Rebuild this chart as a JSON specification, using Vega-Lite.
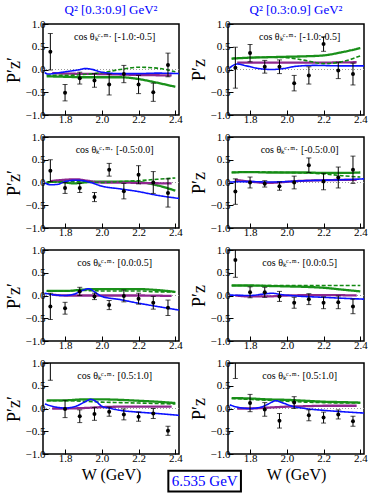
{
"$schema": "https://vega.github.io/schema/vega-lite/v6.json",
"padding": {"left": 4, "top": 3, "right": 0, "bottom": 0},
"datasets": {
"pts": [
{"p":1,"W":1.72,"P":0.39,"lo":-0.01,"hi":0.79},{"p":1,"W":1.80,"P":-0.51,"lo":-0.69,"hi":-0.33},{"p":1,"W":1.88,"P":-0.19,"lo":-0.32,"hi":-0.06},{"p":1,"W":1.96,"P":-0.24,"lo":-0.39,"hi":-0.09},{"p":1,"W":2.04,"P":-0.33,"lo":-0.56,"hi":-0.10},{"p":1,"W":2.12,"P":-0.10,"lo":-0.29,"hi":0.09},{"p":1,"W":2.20,"P":-0.33,"lo":-0.53,"hi":-0.13},{"p":1,"W":2.28,"P":-0.50,"lo":-0.70,"hi":-0.30},{"p":1,"W":2.36,"P":0.10,"lo":-0.16,"hi":0.36},
{"p":2,"W":1.72,"P":0.04,"lo":-0.41,"hi":0.49},{"p":2,"W":1.80,"P":0.36,"lo":0.17,"hi":0.55},{"p":2,"W":1.88,"P":0.06,"lo":-0.08,"hi":0.20},{"p":2,"W":1.96,"P":0.06,"lo":-0.09,"hi":0.21},{"p":2,"W":2.04,"P":-0.30,"lo":-0.47,"hi":-0.13},{"p":2,"W":2.12,"P":-0.13,"lo":-0.32,"hi":0.06},{"p":2,"W":2.20,"P":0.56,"lo":0.40,"hi":0.72},{"p":2,"W":2.28,"P":-0.02,"lo":-0.20,"hi":0.16},{"p":2,"W":2.36,"P":-0.10,"lo":-0.34,"hi":0.14},
{"p":3,"W":1.72,"P":0.26,"lo":0.02,"hi":0.50},{"p":3,"W":1.80,"P":-0.12,"lo":-0.24,"hi":0.0},{"p":3,"W":1.88,"P":-0.12,"lo":-0.22,"hi":-0.02},{"p":3,"W":1.96,"P":-0.32,"lo":-0.42,"hi":-0.22},{"p":3,"W":2.04,"P":0.28,"lo":0.14,"hi":0.42},{"p":3,"W":2.12,"P":-0.19,"lo":-0.36,"hi":-0.02},{"p":3,"W":2.20,"P":0.17,"lo":-0.03,"hi":0.37},{"p":3,"W":2.28,"P":0.0,"lo":-0.24,"hi":0.24},{"p":3,"W":2.36,"P":-0.23,"lo":-0.54,"hi":0.08},
{"p":4,"W":1.72,"P":-0.20,"lo":-0.48,"hi":0.08},{"p":4,"W":1.80,"P":0.0,"lo":-0.12,"hi":0.12},{"p":4,"W":1.88,"P":-0.03,"lo":-0.10,"hi":0.04},{"p":4,"W":1.96,"P":-0.08,"lo":-0.17,"hi":0.01},{"p":4,"W":2.04,"P":0.0,"lo":-0.14,"hi":0.14},{"p":4,"W":2.12,"P":0.38,"lo":0.22,"hi":0.54},{"p":4,"W":2.20,"P":0.02,"lo":-0.16,"hi":0.20},{"p":4,"W":2.28,"P":0.11,"lo":-0.12,"hi":0.34},{"p":4,"W":2.36,"P":0.28,"lo":-0.02,"hi":0.58},
{"p":5,"W":1.72,"P":-0.24,"lo":-0.53,"hi":0.05},{"p":5,"W":1.80,"P":-0.28,"lo":-0.41,"hi":-0.15},{"p":5,"W":1.88,"P":0.09,"lo":0.0,"hi":0.18},{"p":5,"W":1.96,"P":-0.02,"lo":-0.09,"hi":0.05},{"p":5,"W":2.04,"P":-0.21,"lo":-0.31,"hi":-0.11},{"p":5,"W":2.12,"P":-0.01,"lo":-0.14,"hi":0.12},{"p":5,"W":2.20,"P":-0.07,"lo":-0.19,"hi":0.05},{"p":5,"W":2.28,"P":-0.16,"lo":-0.30,"hi":-0.02},{"p":5,"W":2.36,"P":-0.27,"lo":-0.44,"hi":-0.10},
{"p":6,"W":1.72,"P":0.78,"lo":0.40,"hi":1.16},{"p":6,"W":1.80,"P":0.07,"lo":-0.05,"hi":0.19},{"p":6,"W":1.88,"P":0.07,"lo":-0.04,"hi":0.18},{"p":6,"W":1.96,"P":-0.02,"lo":-0.13,"hi":0.09},{"p":6,"W":2.04,"P":-0.16,"lo":-0.28,"hi":-0.04},{"p":6,"W":2.12,"P":-0.08,"lo":-0.20,"hi":0.04},{"p":6,"W":2.20,"P":-0.16,"lo":-0.29,"hi":-0.03},{"p":6,"W":2.28,"P":-0.15,"lo":-0.29,"hi":-0.01},{"p":6,"W":2.36,"P":-0.24,"lo":-0.40,"hi":-0.08},
{"p":7,"W":1.72,"P":1.20,"lo":0.62,"hi":1.78},{"p":7,"W":1.80,"P":-0.01,"lo":-0.20,"hi":0.18},{"p":7,"W":1.88,"P":-0.17,"lo":-0.31,"hi":-0.03},{"p":7,"W":1.96,"P":-0.12,"lo":-0.26,"hi":0.02},{"p":7,"W":2.04,"P":-0.07,"lo":-0.17,"hi":0.03},{"p":7,"W":2.12,"P":-0.13,"lo":-0.25,"hi":-0.01},{"p":7,"W":2.20,"P":-0.18,"lo":-0.28,"hi":-0.08},{"p":7,"W":2.28,"P":-0.11,"lo":-0.22,"hi":0.0},{"p":7,"W":2.36,"P":-0.49,"lo":-0.59,"hi":-0.39},
{"p":8,"W":1.72,"P":1.20,"lo":0.66,"hi":1.74},{"p":8,"W":1.80,"P":0.12,"lo":-0.07,"hi":0.31},{"p":8,"W":1.88,"P":-0.02,"lo":-0.17,"hi":0.13},{"p":8,"W":1.96,"P":-0.27,"lo":-0.43,"hi":-0.11},{"p":8,"W":2.04,"P":0.13,"lo":0.0,"hi":0.26},{"p":8,"W":2.12,"P":-0.15,"lo":-0.27,"hi":-0.03},{"p":8,"W":2.20,"P":-0.20,"lo":-0.32,"hi":-0.08},{"p":8,"W":2.28,"P":-0.13,"lo":-0.23,"hi":-0.03},{"p":8,"W":2.36,"P":-0.28,"lo":-0.39,"hi":-0.17}
],
"curves": [
{"p":1,"m":"gs","W":1.70,"P":-0.15},{"p":1,"m":"gs","W":1.8,"P":-0.16},{"p":1,"m":"gs","W":1.9,"P":-0.17},{"p":1,"m":"gs","W":2.0,"P":-0.17},{"p":1,"m":"gs","W":2.1,"P":-0.17},{"p":1,"m":"gs","W":2.2,"P":-0.21},{"p":1,"m":"gs","W":2.3,"P":-0.29},{"p":1,"m":"gs","W":2.4,"P":-0.38},
{"p":1,"m":"gd","W":1.70,"P":-0.13},{"p":1,"m":"gd","W":1.8,"P":-0.13},{"p":1,"m":"gd","W":1.9,"P":-0.11},{"p":1,"m":"gd","W":2.0,"P":-0.07},{"p":1,"m":"gd","W":2.1,"P":0.0},{"p":1,"m":"gd","W":2.2,"P":0.05},{"p":1,"m":"gd","W":2.3,"P":0.03},{"p":1,"m":"gd","W":2.4,"P":-0.05},
{"p":1,"m":"bl","W":1.69,"P":-0.07},{"p":1,"m":"bl","W":1.71,"P":-0.10},{"p":1,"m":"bl","W":1.75,"P":-0.08},{"p":1,"m":"bl","W":1.82,"P":-0.04},{"p":1,"m":"bl","W":1.87,"P":-0.01},{"p":1,"m":"bl","W":1.91,"P":0.02},{"p":1,"m":"bl","W":1.95,"P":0.0},{"p":1,"m":"bl","W":2.0,"P":-0.06},{"p":1,"m":"bl","W":2.1,"P":-0.09},{"p":1,"m":"bl","W":2.2,"P":-0.09},{"p":1,"m":"bl","W":2.3,"P":-0.08},{"p":1,"m":"bl","W":2.42,"P":-0.09},
{"p":1,"m":"pu","W":1.73,"P":-0.08},{"p":1,"m":"pu","W":1.8,"P":-0.09},{"p":1,"m":"pu","W":2.0,"P":-0.10},{"p":1,"m":"pu","W":2.2,"P":-0.12},{"p":1,"m":"pu","W":2.38,"P":-0.13},
{"p":2,"m":"gs","W":1.70,"P":0.24},{"p":2,"m":"gs","W":1.8,"P":0.26},{"p":2,"m":"gs","W":1.9,"P":0.27},{"p":2,"m":"gs","W":2.0,"P":0.28},{"p":2,"m":"gs","W":2.1,"P":0.29},{"p":2,"m":"gs","W":2.2,"P":0.31},{"p":2,"m":"gs","W":2.3,"P":0.38},{"p":2,"m":"gs","W":2.4,"P":0.47},
{"p":2,"m":"gd","W":1.70,"P":0.24},{"p":2,"m":"gd","W":1.8,"P":0.26},{"p":2,"m":"gd","W":1.9,"P":0.27},{"p":2,"m":"gd","W":2.0,"P":0.26},{"p":2,"m":"gd","W":2.1,"P":0.20},{"p":2,"m":"gd","W":2.2,"P":0.13},{"p":2,"m":"gd","W":2.3,"P":0.17},{"p":2,"m":"gd","W":2.4,"P":0.30},
{"p":2,"m":"bl","W":1.69,"P":0.04},{"p":2,"m":"bl","W":1.73,"P":0.12},{"p":2,"m":"bl","W":1.78,"P":0.08},{"p":2,"m":"bl","W":1.85,"P":0.02},{"p":2,"m":"bl","W":1.92,"P":0.0},{"p":2,"m":"bl","W":1.98,"P":0.02},{"p":2,"m":"bl","W":2.05,"P":0.07},{"p":2,"m":"bl","W":2.15,"P":0.09},{"p":2,"m":"bl","W":2.3,"P":0.08},{"p":2,"m":"bl","W":2.42,"P":0.08},
{"p":2,"m":"pu","W":1.73,"P":0.15},{"p":2,"m":"pu","W":1.9,"P":0.15},{"p":2,"m":"pu","W":2.1,"P":0.15},{"p":2,"m":"pu","W":2.38,"P":0.16},
{"p":3,"m":"gs","W":1.70,"P":0.0},{"p":3,"m":"gs","W":1.75,"P":0.02},{"p":3,"m":"gs","W":1.8,"P":0.0},{"p":3,"m":"gs","W":1.85,"P":-0.02},{"p":3,"m":"gs","W":1.9,"P":0.0},{"p":3,"m":"gs","W":2.0,"P":0.02},{"p":3,"m":"gs","W":2.1,"P":0.02},{"p":3,"m":"gs","W":2.2,"P":0.01},{"p":3,"m":"gs","W":2.3,"P":-0.06},{"p":3,"m":"gs","W":2.4,"P":-0.18},
{"p":3,"m":"gd","W":1.70,"P":0.0},{"p":3,"m":"gd","W":1.8,"P":0.02},{"p":3,"m":"gd","W":1.9,"P":0.02},{"p":3,"m":"gd","W":2.0,"P":0.0},{"p":3,"m":"gd","W":2.1,"P":0.02},{"p":3,"m":"gd","W":2.2,"P":0.04},{"p":3,"m":"gd","W":2.3,"P":0.07},{"p":3,"m":"gd","W":2.4,"P":0.10},
{"p":3,"m":"bl","W":1.69,"P":-0.01},{"p":3,"m":"bl","W":1.72,"P":-0.05},{"p":3,"m":"bl","W":1.76,"P":-0.04},{"p":3,"m":"bl","W":1.8,"P":0.02},{"p":3,"m":"bl","W":1.86,"P":0.05},{"p":3,"m":"bl","W":1.91,"P":0.03},{"p":3,"m":"bl","W":1.94,"P":0.0},{"p":3,"m":"bl","W":2.0,"P":-0.08},{"p":3,"m":"bl","W":2.1,"P":-0.14},{"p":3,"m":"bl","W":2.2,"P":-0.20},{"p":3,"m":"bl","W":2.3,"P":-0.28},{"p":3,"m":"bl","W":2.42,"P":-0.35},
{"p":3,"m":"pu","W":1.72,"P":0.03},{"p":3,"m":"pu","W":1.8,"P":0.06},{"p":3,"m":"pu","W":1.86,"P":0.07},{"p":3,"m":"pu","W":1.92,"P":0.04},{"p":3,"m":"pu","W":2.0,"P":0.0},{"p":3,"m":"pu","W":2.1,"P":0.0},{"p":3,"m":"pu","W":2.2,"P":-0.01},{"p":3,"m":"pu","W":2.38,"P":-0.02},
{"p":4,"m":"gs","W":1.70,"P":0.22},{"p":4,"m":"gs","W":1.8,"P":0.23},{"p":4,"m":"gs","W":1.9,"P":0.22},{"p":4,"m":"gs","W":2.0,"P":0.22},{"p":4,"m":"gs","W":2.1,"P":0.22},{"p":4,"m":"gs","W":2.2,"P":0.21},{"p":4,"m":"gs","W":2.3,"P":0.21},{"p":4,"m":"gs","W":2.4,"P":0.22},
{"p":4,"m":"gd","W":1.70,"P":0.22},{"p":4,"m":"gd","W":1.8,"P":0.23},{"p":4,"m":"gd","W":2.0,"P":0.22},{"p":4,"m":"gd","W":2.1,"P":0.21},{"p":4,"m":"gd","W":2.2,"P":0.19},{"p":4,"m":"gd","W":2.3,"P":0.15},{"p":4,"m":"gd","W":2.4,"P":0.12},
{"p":4,"m":"bl","W":1.69,"P":0.01},{"p":4,"m":"bl","W":1.8,"P":0.02},{"p":4,"m":"bl","W":1.9,"P":0.01},{"p":4,"m":"bl","W":2.0,"P":0.02},{"p":4,"m":"bl","W":2.1,"P":0.04},{"p":4,"m":"bl","W":2.2,"P":0.05},{"p":4,"m":"bl","W":2.3,"P":0.06},{"p":4,"m":"bl","W":2.42,"P":0.08},
{"p":4,"m":"pu","W":1.72,"P":0.06},{"p":4,"m":"pu","W":1.8,"P":0.02},{"p":4,"m":"pu","W":1.9,"P":-0.01},{"p":4,"m":"pu","W":1.95,"P":0.0},{"p":4,"m":"pu","W":2.05,"P":0.03},{"p":4,"m":"pu","W":2.2,"P":0.05},{"p":4,"m":"pu","W":2.38,"P":0.06},
{"p":5,"m":"gs","W":1.70,"P":0.10},{"p":5,"m":"gs","W":1.8,"P":0.10},{"p":5,"m":"gs","W":1.9,"P":0.13},{"p":5,"m":"gs","W":2.0,"P":0.14},{"p":5,"m":"gs","W":2.1,"P":0.14},{"p":5,"m":"gs","W":2.2,"P":0.14},{"p":5,"m":"gs","W":2.3,"P":0.12},{"p":5,"m":"gs","W":2.4,"P":0.08},
{"p":5,"m":"gd","W":1.70,"P":0.10},{"p":5,"m":"gd","W":1.8,"P":0.10},{"p":5,"m":"gd","W":1.9,"P":0.11},{"p":5,"m":"gd","W":2.0,"P":0.10},{"p":5,"m":"gd","W":2.1,"P":0.10},{"p":5,"m":"gd","W":2.2,"P":0.10},{"p":5,"m":"gd","W":2.3,"P":0.08},{"p":5,"m":"gd","W":2.4,"P":0.08},
{"p":5,"m":"bl","W":1.69,"P":0.05},{"p":5,"m":"bl","W":1.73,"P":0.02},{"p":5,"m":"bl","W":1.8,"P":0.0},{"p":5,"m":"bl","W":1.85,"P":0.03},{"p":5,"m":"bl","W":1.9,"P":0.12},{"p":5,"m":"bl","W":1.93,"P":0.15},{"p":5,"m":"bl","W":1.96,"P":0.08},{"p":5,"m":"bl","W":2.0,"P":-0.02},{"p":5,"m":"bl","W":2.1,"P":-0.09},{"p":5,"m":"bl","W":2.2,"P":-0.17},{"p":5,"m":"bl","W":2.3,"P":-0.24},{"p":5,"m":"bl","W":2.42,"P":-0.32},
{"p":5,"m":"pu","W":1.73,"P":0.02},{"p":5,"m":"pu","W":1.8,"P":0.0},{"p":5,"m":"pu","W":1.9,"P":0.0},{"p":5,"m":"pu","W":2.0,"P":0.0},{"p":5,"m":"pu","W":2.2,"P":0.0},{"p":5,"m":"pu","W":2.38,"P":-0.01},
{"p":6,"m":"gs","W":1.70,"P":0.22},{"p":6,"m":"gs","W":1.8,"P":0.22},{"p":6,"m":"gs","W":1.9,"P":0.21},{"p":6,"m":"gs","W":2.0,"P":0.20},{"p":6,"m":"gs","W":2.1,"P":0.19},{"p":6,"m":"gs","W":2.2,"P":0.17},{"p":6,"m":"gs","W":2.3,"P":0.13},{"p":6,"m":"gs","W":2.4,"P":0.09},
{"p":6,"m":"gd","W":1.70,"P":0.22},{"p":6,"m":"gd","W":1.8,"P":0.22},{"p":6,"m":"gd","W":2.0,"P":0.22},{"p":6,"m":"gd","W":2.2,"P":0.22},{"p":6,"m":"gd","W":2.4,"P":0.22},
{"p":6,"m":"bl","W":1.69,"P":0.01},{"p":6,"m":"bl","W":1.8,"P":0.0},{"p":6,"m":"bl","W":1.87,"P":0.03},{"p":6,"m":"bl","W":1.92,"P":0.05},{"p":6,"m":"bl","W":1.97,"P":0.02},{"p":6,"m":"bl","W":2.05,"P":-0.01},{"p":6,"m":"bl","W":2.2,"P":-0.04},{"p":6,"m":"bl","W":2.3,"P":-0.06},{"p":6,"m":"bl","W":2.42,"P":-0.08},
{"p":6,"m":"pu","W":1.72,"P":0.0},{"p":6,"m":"pu","W":1.8,"P":-0.02},{"p":6,"m":"pu","W":1.9,"P":-0.02},{"p":6,"m":"pu","W":2.0,"P":0.0},{"p":6,"m":"pu","W":2.2,"P":0.01},{"p":6,"m":"pu","W":2.38,"P":0.0},
{"p":7,"m":"gs","W":1.70,"P":0.18},{"p":7,"m":"gs","W":1.8,"P":0.18},{"p":7,"m":"gs","W":1.9,"P":0.20},{"p":7,"m":"gs","W":2.0,"P":0.20},{"p":7,"m":"gs","W":2.1,"P":0.19},{"p":7,"m":"gs","W":2.2,"P":0.17},{"p":7,"m":"gs","W":2.3,"P":0.15},{"p":7,"m":"gs","W":2.4,"P":0.12},
{"p":7,"m":"gd","W":1.70,"P":0.17},{"p":7,"m":"gd","W":1.8,"P":0.17},{"p":7,"m":"gd","W":1.9,"P":0.16},{"p":7,"m":"gd","W":2.0,"P":0.14},{"p":7,"m":"gd","W":2.1,"P":0.13},{"p":7,"m":"gd","W":2.2,"P":0.12},{"p":7,"m":"gd","W":2.3,"P":0.11},{"p":7,"m":"gd","W":2.4,"P":0.10},
{"p":7,"m":"bl","W":1.69,"P":0.10},{"p":7,"m":"bl","W":1.73,"P":0.05},{"p":7,"m":"bl","W":1.8,"P":0.01},{"p":7,"m":"bl","W":1.86,"P":0.05},{"p":7,"m":"bl","W":1.91,"P":0.15},{"p":7,"m":"bl","W":1.94,"P":0.20},{"p":7,"m":"bl","W":1.97,"P":0.15},{"p":7,"m":"bl","W":2.0,"P":0.05},{"p":7,"m":"bl","W":2.05,"P":0.0},{"p":7,"m":"bl","W":2.1,"P":-0.04},{"p":7,"m":"bl","W":2.2,"P":-0.08},{"p":7,"m":"bl","W":2.3,"P":-0.11},{"p":7,"m":"bl","W":2.42,"P":-0.15},
{"p":7,"m":"pu","W":1.73,"P":0.0},{"p":7,"m":"pu","W":1.8,"P":0.0},{"p":7,"m":"pu","W":1.9,"P":0.01},{"p":7,"m":"pu","W":2.0,"P":0.03},{"p":7,"m":"pu","W":2.1,"P":0.04},{"p":7,"m":"pu","W":2.2,"P":0.04},{"p":7,"m":"pu","W":2.38,"P":0.04},
{"p":8,"m":"gs","W":1.70,"P":0.23},{"p":8,"m":"gs","W":1.8,"P":0.22},{"p":8,"m":"gs","W":1.9,"P":0.20},{"p":8,"m":"gs","W":2.0,"P":0.19},{"p":8,"m":"gs","W":2.1,"P":0.17},{"p":8,"m":"gs","W":2.2,"P":0.15},{"p":8,"m":"gs","W":2.3,"P":0.14},{"p":8,"m":"gs","W":2.4,"P":0.13},
{"p":8,"m":"gd","W":1.70,"P":0.22},{"p":8,"m":"gd","W":1.8,"P":0.20},{"p":8,"m":"gd","W":1.9,"P":0.18},{"p":8,"m":"gd","W":2.0,"P":0.16},{"p":8,"m":"gd","W":2.1,"P":0.14},{"p":8,"m":"gd","W":2.2,"P":0.13},{"p":8,"m":"gd","W":2.3,"P":0.12},{"p":8,"m":"gd","W":2.4,"P":0.12},
{"p":8,"m":"bl","W":1.69,"P":0.08},{"p":8,"m":"bl","W":1.73,"P":0.03},{"p":8,"m":"bl","W":1.8,"P":0.0},{"p":8,"m":"bl","W":1.86,"P":0.03},{"p":8,"m":"bl","W":1.9,"P":0.10},{"p":8,"m":"bl","W":1.94,"P":0.17},{"p":8,"m":"bl","W":1.98,"P":0.12},{"p":8,"m":"bl","W":2.03,"P":0.05},{"p":8,"m":"bl","W":2.1,"P":0.0},{"p":8,"m":"bl","W":2.2,"P":-0.04},{"p":8,"m":"bl","W":2.3,"P":-0.07},{"p":8,"m":"bl","W":2.42,"P":-0.10},
{"p":8,"m":"pu","W":1.73,"P":0.0},{"p":8,"m":"pu","W":1.8,"P":0.0},{"p":8,"m":"pu","W":1.9,"P":0.02},{"p":8,"m":"pu","W":2.0,"P":0.04},{"p":8,"m":"pu","W":2.1,"P":0.05},{"p":8,"m":"pu","W":2.2,"P":0.06},{"p":8,"m":"pu","W":2.38,"P":0.06}
]
},
"columns": 2,
"bounds": "flush",
"spacing": {"row": 22, "column": 49},
"concat": [
{"width":136,"height":91,"title":"Q² [0.3:0.9] GeV²","layer":[
{"data":{"values":[{}]},"mark":{"type":"rule","color":"#999999","strokeDash":[1,2],"strokeWidth":1},"encoding":{"y":{"datum":0,"type":"quantitative","scale":{"domain":[-1,1],"nice":false,"zero":false},"axis":{"title":"P′z′"}}}},
{"data":{"name":"curves"},"transform":[{"filter":"datum.p==1 && (datum.m=='gs' || datum.m=='pu')"}],"mark":{"type":"line","clip":true,"strokeWidth":2.3,"interpolate":"monotone"},"encoding":{"x":{"field":"W","type":"quantitative","scale":{"domain":[1.68,2.42],"nice":false,"zero":false},"axis":{"title":null}},"y":{"field":"P","type":"quantitative"},"color":{"field":"m","type":"nominal","scale":{"domain":["gs","gd","pu","bl"],"range":["#1a901a","#138a13","#8e278e","#0a10ff"]},"legend":null},"strokeDash":{"field":"m","type":"nominal","scale":{"domain":["gs","gd","pu","bl"],"range":[[1,0],[4,2],[1,0],[1,0]]},"legend":null}}},
{"data":{"name":"curves"},"transform":[{"filter":"datum.p==1 && (datum.m=='gd' || datum.m=='bl')"}],"mark":{"type":"line","clip":true,"strokeWidth":1.6,"interpolate":"monotone"},"encoding":{"x":{"field":"W","type":"quantitative"},"y":{"field":"P","type":"quantitative"},"color":{"field":"m","type":"nominal","legend":null},"strokeDash":{"field":"m","type":"nominal","legend":null}}},
{"data":{"name":"pts"},"transform":[{"filter":"datum.p==1"}],"mark":{"type":"rule","clip":true,"color":"black","strokeWidth":1},"encoding":{"x":{"field":"W","type":"quantitative"},"y":{"field":"lo","type":"quantitative"},"y2":{"field":"hi"}}},
{"data":{"name":"pts"},"transform":[{"filter":"datum.p==1"}],"mark":{"type":"tick","orient":"horizontal","clip":true,"color":"black","size":5,"thickness":1},"encoding":{"x":{"field":"W","type":"quantitative"},"y":{"field":"lo","type":"quantitative"}}},
{"data":{"name":"pts"},"transform":[{"filter":"datum.p==1"}],"mark":{"type":"tick","orient":"horizontal","clip":true,"color":"black","size":5,"thickness":1},"encoding":{"x":{"field":"W","type":"quantitative"},"y":{"field":"hi","type":"quantitative"}}},
{"data":{"name":"pts"},"transform":[{"filter":"datum.p==1"}],"mark":{"type":"point","filled":true,"clip":true,"color":"black","opacity":1,"size":16},"encoding":{"x":{"field":"W","type":"quantitative"},"y":{"field":"P","type":"quantitative"}}},
{"data":{"values":[{}]},"mark":{"type":"text","fontSize":10,"font":"Liberation Serif","color":"black"},"encoding":{"x":{"datum":2.07,"type":"quantitative"},"y":{"datum":0.72,"type":"quantitative"},"text":{"value":"cos θₖᶜ·ᵐ· [-1.0:-0.5]"}}}
]},
{"width":136,"height":91,"title":"Q² [0.3:0.9] GeV²","layer":[
{"data":{"values":[{}]},"mark":{"type":"rule","color":"#999999","strokeDash":[1,2],"strokeWidth":1},"encoding":{"y":{"datum":0,"type":"quantitative","scale":{"domain":[-1,1],"nice":false,"zero":false},"axis":{"title":"P′z"}}}},
{"data":{"name":"curves"},"transform":[{"filter":"datum.p==2 && (datum.m=='gs' || datum.m=='pu')"}],"mark":{"type":"line","clip":true,"strokeWidth":2.3,"interpolate":"monotone"},"encoding":{"x":{"field":"W","type":"quantitative","scale":{"domain":[1.68,2.42],"nice":false,"zero":false},"axis":{"title":null}},"y":{"field":"P","type":"quantitative"},"color":{"field":"m","type":"nominal","scale":{"domain":["gs","gd","pu","bl"],"range":["#1a901a","#138a13","#8e278e","#0a10ff"]},"legend":null},"strokeDash":{"field":"m","type":"nominal","scale":{"domain":["gs","gd","pu","bl"],"range":[[1,0],[4,2],[1,0],[1,0]]},"legend":null}}},
{"data":{"name":"curves"},"transform":[{"filter":"datum.p==2 && (datum.m=='gd' || datum.m=='bl')"}],"mark":{"type":"line","clip":true,"strokeWidth":1.6,"interpolate":"monotone"},"encoding":{"x":{"field":"W","type":"quantitative"},"y":{"field":"P","type":"quantitative"},"color":{"field":"m","type":"nominal","legend":null},"strokeDash":{"field":"m","type":"nominal","legend":null}}},
{"data":{"name":"pts"},"transform":[{"filter":"datum.p==2"}],"mark":{"type":"rule","clip":true,"color":"black","strokeWidth":1},"encoding":{"x":{"field":"W","type":"quantitative"},"y":{"field":"lo","type":"quantitative"},"y2":{"field":"hi"}}},
{"data":{"name":"pts"},"transform":[{"filter":"datum.p==2"}],"mark":{"type":"tick","orient":"horizontal","clip":true,"color":"black","size":5,"thickness":1},"encoding":{"x":{"field":"W","type":"quantitative"},"y":{"field":"lo","type":"quantitative"}}},
{"data":{"name":"pts"},"transform":[{"filter":"datum.p==2"}],"mark":{"type":"tick","orient":"horizontal","clip":true,"color":"black","size":5,"thickness":1},"encoding":{"x":{"field":"W","type":"quantitative"},"y":{"field":"hi","type":"quantitative"}}},
{"data":{"name":"pts"},"transform":[{"filter":"datum.p==2"}],"mark":{"type":"point","filled":true,"clip":true,"color":"black","opacity":1,"size":16},"encoding":{"x":{"field":"W","type":"quantitative"},"y":{"field":"P","type":"quantitative"}}},
{"data":{"values":[{}]},"mark":{"type":"text","fontSize":10,"font":"Liberation Serif","color":"black"},"encoding":{"x":{"datum":2.07,"type":"quantitative"},"y":{"datum":0.72,"type":"quantitative"},"text":{"value":"cos θₖᶜ·ᵐ· [-1.0:-0.5]"}}}
]},
{"width":136,"height":91,"layer":[
{"data":{"values":[{}]},"mark":{"type":"rule","color":"#999999","strokeDash":[1,2],"strokeWidth":1},"encoding":{"y":{"datum":0,"type":"quantitative","scale":{"domain":[-1,1],"nice":false,"zero":false},"axis":{"title":"P′z′"}}}},
{"data":{"name":"curves"},"transform":[{"filter":"datum.p==3 && (datum.m=='gs' || datum.m=='pu')"}],"mark":{"type":"line","clip":true,"strokeWidth":2.3,"interpolate":"monotone"},"encoding":{"x":{"field":"W","type":"quantitative","scale":{"domain":[1.68,2.42],"nice":false,"zero":false},"axis":{"title":null}},"y":{"field":"P","type":"quantitative"},"color":{"field":"m","type":"nominal","scale":{"domain":["gs","gd","pu","bl"],"range":["#1a901a","#138a13","#8e278e","#0a10ff"]},"legend":null},"strokeDash":{"field":"m","type":"nominal","scale":{"domain":["gs","gd","pu","bl"],"range":[[1,0],[4,2],[1,0],[1,0]]},"legend":null}}},
{"data":{"name":"curves"},"transform":[{"filter":"datum.p==3 && (datum.m=='gd' || datum.m=='bl')"}],"mark":{"type":"line","clip":true,"strokeWidth":1.6,"interpolate":"monotone"},"encoding":{"x":{"field":"W","type":"quantitative"},"y":{"field":"P","type":"quantitative"},"color":{"field":"m","type":"nominal","legend":null},"strokeDash":{"field":"m","type":"nominal","legend":null}}},
{"data":{"name":"pts"},"transform":[{"filter":"datum.p==3"}],"mark":{"type":"rule","clip":true,"color":"black","strokeWidth":1},"encoding":{"x":{"field":"W","type":"quantitative"},"y":{"field":"lo","type":"quantitative"},"y2":{"field":"hi"}}},
{"data":{"name":"pts"},"transform":[{"filter":"datum.p==3"}],"mark":{"type":"tick","orient":"horizontal","clip":true,"color":"black","size":5,"thickness":1},"encoding":{"x":{"field":"W","type":"quantitative"},"y":{"field":"lo","type":"quantitative"}}},
{"data":{"name":"pts"},"transform":[{"filter":"datum.p==3"}],"mark":{"type":"tick","orient":"horizontal","clip":true,"color":"black","size":5,"thickness":1},"encoding":{"x":{"field":"W","type":"quantitative"},"y":{"field":"hi","type":"quantitative"}}},
{"data":{"name":"pts"},"transform":[{"filter":"datum.p==3"}],"mark":{"type":"point","filled":true,"clip":true,"color":"black","opacity":1,"size":16},"encoding":{"x":{"field":"W","type":"quantitative"},"y":{"field":"P","type":"quantitative"}}},
{"data":{"values":[{}]},"mark":{"type":"text","fontSize":10,"font":"Liberation Serif","color":"black"},"encoding":{"x":{"datum":2.07,"type":"quantitative"},"y":{"datum":0.72,"type":"quantitative"},"text":{"value":"cos θₖᶜ·ᵐ· [-0.5:0.0]"}}}
]},
{"width":136,"height":91,"layer":[
{"data":{"values":[{}]},"mark":{"type":"rule","color":"#999999","strokeDash":[1,2],"strokeWidth":1},"encoding":{"y":{"datum":0,"type":"quantitative","scale":{"domain":[-1,1],"nice":false,"zero":false},"axis":{"title":"P′z"}}}},
{"data":{"name":"curves"},"transform":[{"filter":"datum.p==4 && (datum.m=='gs' || datum.m=='pu')"}],"mark":{"type":"line","clip":true,"strokeWidth":2.3,"interpolate":"monotone"},"encoding":{"x":{"field":"W","type":"quantitative","scale":{"domain":[1.68,2.42],"nice":false,"zero":false},"axis":{"title":null}},"y":{"field":"P","type":"quantitative"},"color":{"field":"m","type":"nominal","scale":{"domain":["gs","gd","pu","bl"],"range":["#1a901a","#138a13","#8e278e","#0a10ff"]},"legend":null},"strokeDash":{"field":"m","type":"nominal","scale":{"domain":["gs","gd","pu","bl"],"range":[[1,0],[4,2],[1,0],[1,0]]},"legend":null}}},
{"data":{"name":"curves"},"transform":[{"filter":"datum.p==4 && (datum.m=='gd' || datum.m=='bl')"}],"mark":{"type":"line","clip":true,"strokeWidth":1.6,"interpolate":"monotone"},"encoding":{"x":{"field":"W","type":"quantitative"},"y":{"field":"P","type":"quantitative"},"color":{"field":"m","type":"nominal","legend":null},"strokeDash":{"field":"m","type":"nominal","legend":null}}},
{"data":{"name":"pts"},"transform":[{"filter":"datum.p==4"}],"mark":{"type":"rule","clip":true,"color":"black","strokeWidth":1},"encoding":{"x":{"field":"W","type":"quantitative"},"y":{"field":"lo","type":"quantitative"},"y2":{"field":"hi"}}},
{"data":{"name":"pts"},"transform":[{"filter":"datum.p==4"}],"mark":{"type":"tick","orient":"horizontal","clip":true,"color":"black","size":5,"thickness":1},"encoding":{"x":{"field":"W","type":"quantitative"},"y":{"field":"lo","type":"quantitative"}}},
{"data":{"name":"pts"},"transform":[{"filter":"datum.p==4"}],"mark":{"type":"tick","orient":"horizontal","clip":true,"color":"black","size":5,"thickness":1},"encoding":{"x":{"field":"W","type":"quantitative"},"y":{"field":"hi","type":"quantitative"}}},
{"data":{"name":"pts"},"transform":[{"filter":"datum.p==4"}],"mark":{"type":"point","filled":true,"clip":true,"color":"black","opacity":1,"size":16},"encoding":{"x":{"field":"W","type":"quantitative"},"y":{"field":"P","type":"quantitative"}}},
{"data":{"values":[{}]},"mark":{"type":"text","fontSize":10,"font":"Liberation Serif","color":"black"},"encoding":{"x":{"datum":2.07,"type":"quantitative"},"y":{"datum":0.72,"type":"quantitative"},"text":{"value":"cos θₖᶜ·ᵐ· [-0.5:0.0]"}}}
]},
{"width":136,"height":91,"layer":[
{"data":{"values":[{}]},"mark":{"type":"rule","color":"#999999","strokeDash":[1,2],"strokeWidth":1},"encoding":{"y":{"datum":0,"type":"quantitative","scale":{"domain":[-1,1],"nice":false,"zero":false},"axis":{"title":"P′z′"}}}},
{"data":{"name":"curves"},"transform":[{"filter":"datum.p==5 && (datum.m=='gs' || datum.m=='pu')"}],"mark":{"type":"line","clip":true,"strokeWidth":2.3,"interpolate":"monotone"},"encoding":{"x":{"field":"W","type":"quantitative","scale":{"domain":[1.68,2.42],"nice":false,"zero":false},"axis":{"title":null}},"y":{"field":"P","type":"quantitative"},"color":{"field":"m","type":"nominal","scale":{"domain":["gs","gd","pu","bl"],"range":["#1a901a","#138a13","#8e278e","#0a10ff"]},"legend":null},"strokeDash":{"field":"m","type":"nominal","scale":{"domain":["gs","gd","pu","bl"],"range":[[1,0],[4,2],[1,0],[1,0]]},"legend":null}}},
{"data":{"name":"curves"},"transform":[{"filter":"datum.p==5 && (datum.m=='gd' || datum.m=='bl')"}],"mark":{"type":"line","clip":true,"strokeWidth":1.6,"interpolate":"monotone"},"encoding":{"x":{"field":"W","type":"quantitative"},"y":{"field":"P","type":"quantitative"},"color":{"field":"m","type":"nominal","legend":null},"strokeDash":{"field":"m","type":"nominal","legend":null}}},
{"data":{"name":"pts"},"transform":[{"filter":"datum.p==5"}],"mark":{"type":"rule","clip":true,"color":"black","strokeWidth":1},"encoding":{"x":{"field":"W","type":"quantitative"},"y":{"field":"lo","type":"quantitative"},"y2":{"field":"hi"}}},
{"data":{"name":"pts"},"transform":[{"filter":"datum.p==5"}],"mark":{"type":"tick","orient":"horizontal","clip":true,"color":"black","size":5,"thickness":1},"encoding":{"x":{"field":"W","type":"quantitative"},"y":{"field":"lo","type":"quantitative"}}},
{"data":{"name":"pts"},"transform":[{"filter":"datum.p==5"}],"mark":{"type":"tick","orient":"horizontal","clip":true,"color":"black","size":5,"thickness":1},"encoding":{"x":{"field":"W","type":"quantitative"},"y":{"field":"hi","type":"quantitative"}}},
{"data":{"name":"pts"},"transform":[{"filter":"datum.p==5"}],"mark":{"type":"point","filled":true,"clip":true,"color":"black","opacity":1,"size":16},"encoding":{"x":{"field":"W","type":"quantitative"},"y":{"field":"P","type":"quantitative"}}},
{"data":{"values":[{}]},"mark":{"type":"text","fontSize":10,"font":"Liberation Serif","color":"black"},"encoding":{"x":{"datum":2.07,"type":"quantitative"},"y":{"datum":0.72,"type":"quantitative"},"text":{"value":"cos θₖᶜ·ᵐ· [0.0:0.5]"}}}
]},
{"width":136,"height":91,"layer":[
{"data":{"values":[{}]},"mark":{"type":"rule","color":"#999999","strokeDash":[1,2],"strokeWidth":1},"encoding":{"y":{"datum":0,"type":"quantitative","scale":{"domain":[-1,1],"nice":false,"zero":false},"axis":{"title":"P′z"}}}},
{"data":{"name":"curves"},"transform":[{"filter":"datum.p==6 && (datum.m=='gs' || datum.m=='pu')"}],"mark":{"type":"line","clip":true,"strokeWidth":2.3,"interpolate":"monotone"},"encoding":{"x":{"field":"W","type":"quantitative","scale":{"domain":[1.68,2.42],"nice":false,"zero":false},"axis":{"title":null}},"y":{"field":"P","type":"quantitative"},"color":{"field":"m","type":"nominal","scale":{"domain":["gs","gd","pu","bl"],"range":["#1a901a","#138a13","#8e278e","#0a10ff"]},"legend":null},"strokeDash":{"field":"m","type":"nominal","scale":{"domain":["gs","gd","pu","bl"],"range":[[1,0],[4,2],[1,0],[1,0]]},"legend":null}}},
{"data":{"name":"curves"},"transform":[{"filter":"datum.p==6 && (datum.m=='gd' || datum.m=='bl')"}],"mark":{"type":"line","clip":true,"strokeWidth":1.6,"interpolate":"monotone"},"encoding":{"x":{"field":"W","type":"quantitative"},"y":{"field":"P","type":"quantitative"},"color":{"field":"m","type":"nominal","legend":null},"strokeDash":{"field":"m","type":"nominal","legend":null}}},
{"data":{"name":"pts"},"transform":[{"filter":"datum.p==6"}],"mark":{"type":"rule","clip":true,"color":"black","strokeWidth":1},"encoding":{"x":{"field":"W","type":"quantitative"},"y":{"field":"lo","type":"quantitative"},"y2":{"field":"hi"}}},
{"data":{"name":"pts"},"transform":[{"filter":"datum.p==6"}],"mark":{"type":"tick","orient":"horizontal","clip":true,"color":"black","size":5,"thickness":1},"encoding":{"x":{"field":"W","type":"quantitative"},"y":{"field":"lo","type":"quantitative"}}},
{"data":{"name":"pts"},"transform":[{"filter":"datum.p==6"}],"mark":{"type":"tick","orient":"horizontal","clip":true,"color":"black","size":5,"thickness":1},"encoding":{"x":{"field":"W","type":"quantitative"},"y":{"field":"hi","type":"quantitative"}}},
{"data":{"name":"pts"},"transform":[{"filter":"datum.p==6"}],"mark":{"type":"point","filled":true,"clip":true,"color":"black","opacity":1,"size":16},"encoding":{"x":{"field":"W","type":"quantitative"},"y":{"field":"P","type":"quantitative"}}},
{"data":{"values":[{}]},"mark":{"type":"text","fontSize":10,"font":"Liberation Serif","color":"black"},"encoding":{"x":{"datum":2.07,"type":"quantitative"},"y":{"datum":0.72,"type":"quantitative"},"text":{"value":"cos θₖᶜ·ᵐ· [0.0:0.5]"}}}
]},
{"width":136,"height":91,"layer":[
{"data":{"values":[{}]},"mark":{"type":"rule","color":"#999999","strokeDash":[1,2],"strokeWidth":1},"encoding":{"y":{"datum":0,"type":"quantitative","scale":{"domain":[-1,1],"nice":false,"zero":false},"axis":{"title":"P′z′"}}}},
{"data":{"name":"curves"},"transform":[{"filter":"datum.p==7 && (datum.m=='gs' || datum.m=='pu')"}],"mark":{"type":"line","clip":true,"strokeWidth":2.3,"interpolate":"monotone"},"encoding":{"x":{"field":"W","type":"quantitative","scale":{"domain":[1.68,2.42],"nice":false,"zero":false},"axis":{"title":"W (GeV)"}},"y":{"field":"P","type":"quantitative"},"color":{"field":"m","type":"nominal","scale":{"domain":["gs","gd","pu","bl"],"range":["#1a901a","#138a13","#8e278e","#0a10ff"]},"legend":null},"strokeDash":{"field":"m","type":"nominal","scale":{"domain":["gs","gd","pu","bl"],"range":[[1,0],[4,2],[1,0],[1,0]]},"legend":null}}},
{"data":{"name":"curves"},"transform":[{"filter":"datum.p==7 && (datum.m=='gd' || datum.m=='bl')"}],"mark":{"type":"line","clip":true,"strokeWidth":1.6,"interpolate":"monotone"},"encoding":{"x":{"field":"W","type":"quantitative"},"y":{"field":"P","type":"quantitative"},"color":{"field":"m","type":"nominal","legend":null},"strokeDash":{"field":"m","type":"nominal","legend":null}}},
{"data":{"name":"pts"},"transform":[{"filter":"datum.p==7"}],"mark":{"type":"rule","clip":true,"color":"black","strokeWidth":1},"encoding":{"x":{"field":"W","type":"quantitative"},"y":{"field":"lo","type":"quantitative"},"y2":{"field":"hi"}}},
{"data":{"name":"pts"},"transform":[{"filter":"datum.p==7"}],"mark":{"type":"tick","orient":"horizontal","clip":true,"color":"black","size":5,"thickness":1},"encoding":{"x":{"field":"W","type":"quantitative"},"y":{"field":"lo","type":"quantitative"}}},
{"data":{"name":"pts"},"transform":[{"filter":"datum.p==7"}],"mark":{"type":"tick","orient":"horizontal","clip":true,"color":"black","size":5,"thickness":1},"encoding":{"x":{"field":"W","type":"quantitative"},"y":{"field":"hi","type":"quantitative"}}},
{"data":{"name":"pts"},"transform":[{"filter":"datum.p==7"}],"mark":{"type":"point","filled":true,"clip":true,"color":"black","opacity":1,"size":16},"encoding":{"x":{"field":"W","type":"quantitative"},"y":{"field":"P","type":"quantitative"}}},
{"data":{"values":[{}]},"mark":{"type":"text","fontSize":10,"font":"Liberation Serif","color":"black"},"encoding":{"x":{"datum":2.07,"type":"quantitative"},"y":{"datum":0.72,"type":"quantitative"},"text":{"value":"cos θₖᶜ·ᵐ· [0.5:1.0]"}}},
{"data":{"values":[{}]},"mark":{"type":"rect","filled":false,"stroke":"black","strokeWidth":2,"clip":false},"encoding":{"x":{"datum":2.362,"type":"quantitative"},"x2":{"datum":2.757},"y":{"datum":-1.37,"type":"quantitative"},"y2":{"datum":-1.825}}},
{"data":{"values":[{"t":"6.535 GeV"}]},"mark":{"type":"text","fontSize":15,"font":"Liberation Serif","color":"#0000ff","clip":false},"encoding":{"x":{"datum":2.56,"type":"quantitative"},"y":{"datum":-1.6,"type":"quantitative"},"text":{"field":"t"}}}
]},
{"width":136,"height":91,"layer":[
{"data":{"values":[{}]},"mark":{"type":"rule","color":"#999999","strokeDash":[1,2],"strokeWidth":1},"encoding":{"y":{"datum":0,"type":"quantitative","scale":{"domain":[-1,1],"nice":false,"zero":false},"axis":{"title":"P′z"}}}},
{"data":{"name":"curves"},"transform":[{"filter":"datum.p==8 && (datum.m=='gs' || datum.m=='pu')"}],"mark":{"type":"line","clip":true,"strokeWidth":2.3,"interpolate":"monotone"},"encoding":{"x":{"field":"W","type":"quantitative","scale":{"domain":[1.68,2.42],"nice":false,"zero":false},"axis":{"title":"W (GeV)"}},"y":{"field":"P","type":"quantitative"},"color":{"field":"m","type":"nominal","scale":{"domain":["gs","gd","pu","bl"],"range":["#1a901a","#138a13","#8e278e","#0a10ff"]},"legend":null},"strokeDash":{"field":"m","type":"nominal","scale":{"domain":["gs","gd","pu","bl"],"range":[[1,0],[4,2],[1,0],[1,0]]},"legend":null}}},
{"data":{"name":"curves"},"transform":[{"filter":"datum.p==8 && (datum.m=='gd' || datum.m=='bl')"}],"mark":{"type":"line","clip":true,"strokeWidth":1.6,"interpolate":"monotone"},"encoding":{"x":{"field":"W","type":"quantitative"},"y":{"field":"P","type":"quantitative"},"color":{"field":"m","type":"nominal","legend":null},"strokeDash":{"field":"m","type":"nominal","legend":null}}},
{"data":{"name":"pts"},"transform":[{"filter":"datum.p==8"}],"mark":{"type":"rule","clip":true,"color":"black","strokeWidth":1},"encoding":{"x":{"field":"W","type":"quantitative"},"y":{"field":"lo","type":"quantitative"},"y2":{"field":"hi"}}},
{"data":{"name":"pts"},"transform":[{"filter":"datum.p==8"}],"mark":{"type":"tick","orient":"horizontal","clip":true,"color":"black","size":5,"thickness":1},"encoding":{"x":{"field":"W","type":"quantitative"},"y":{"field":"lo","type":"quantitative"}}},
{"data":{"name":"pts"},"transform":[{"filter":"datum.p==8"}],"mark":{"type":"tick","orient":"horizontal","clip":true,"color":"black","size":5,"thickness":1},"encoding":{"x":{"field":"W","type":"quantitative"},"y":{"field":"hi","type":"quantitative"}}},
{"data":{"name":"pts"},"transform":[{"filter":"datum.p==8"}],"mark":{"type":"point","filled":true,"clip":true,"color":"black","opacity":1,"size":16},"encoding":{"x":{"field":"W","type":"quantitative"},"y":{"field":"P","type":"quantitative"}}},
{"data":{"values":[{}]},"mark":{"type":"text","fontSize":10,"font":"Liberation Serif","color":"black"},"encoding":{"x":{"datum":2.07,"type":"quantitative"},"y":{"datum":0.72,"type":"quantitative"},"text":{"value":"cos θₖᶜ·ᵐ· [0.5:1.0]"}}}
]}
],
"config": {
"font": "Liberation Serif",
"view": {"stroke": "black", "strokeWidth": 1.5},
"title": {"font": "Liberation Serif", "fontSize": 13, "fontWeight": "normal", "color": "#0000ff", "offset": 1},
"axis": {"grid": true, "gridColor": "black", "gridOpacity": 1, "gridWidth": 1, "ticks": true, "tickColor": "black", "tickWidth": 1, "domain": false, "labelOverlap": false, "format": ".1f", "labelFont": "Liberation Serif", "labelFontSize": 11, "labelColor": "black", "labelPadding": 3, "titleFont": "Liberation Serif", "titleFontWeight": "normal", "titleColor": "black"},
"axisY": {"titleFontSize": 18, "titlePadding": 2, "values": [-1,-0.9,-0.8,-0.7,-0.6,-0.5,-0.4,-0.3,-0.2,-0.1,0,0.1,0.2,0.3,0.4,0.5,0.6,0.7,0.8,0.9,1], "labelExpr": "abs(datum.value*2-round(datum.value*2))<0.001 ? datum.label : ''", "gridDash": [5,126], "gridOpacity": {"condition": {"test": "abs(datum.value*2-round(datum.value*2))<0.001", "value": 1}, "value": 0}, "tickSize": {"condition": {"test": "abs(datum.value*2-round(datum.value*2))<0.001", "value": -5}, "value": -2.5}},
"axisX": {"titleFontSize": 16, "titlePadding": 3, "values": [1.7,1.75,1.8,1.85,1.9,1.95,2.0,2.05,2.1,2.15,2.2,2.25,2.3,2.35,2.4], "labelExpr": "abs(datum.value*5-round(datum.value*5))<0.001 ? datum.label : ''", "gridDash": [5,81], "gridOpacity": {"condition": {"test": "abs(datum.value*5-round(datum.value*5))<0.001", "value": 1}, "value": 0}, "tickSize": {"condition": {"test": "abs(datum.value*5-round(datum.value*5))<0.001", "value": -5}, "value": -2.5}}
}
}
